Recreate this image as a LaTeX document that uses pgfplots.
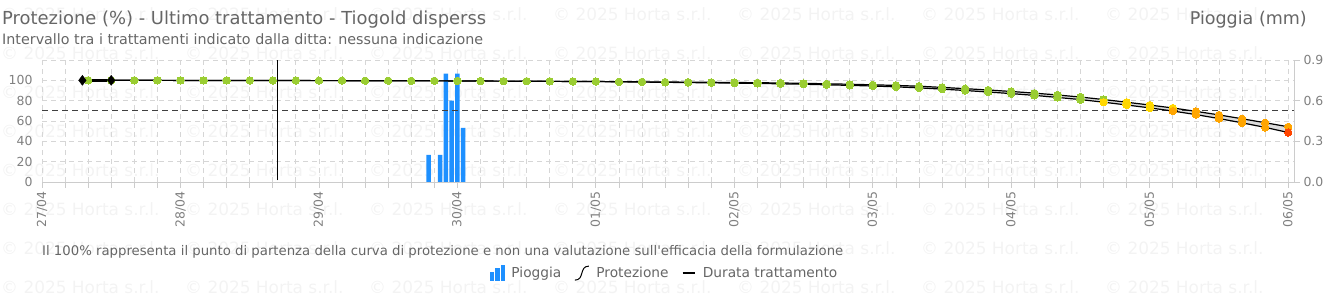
\documentclass[border=0pt]{standalone}
\usepackage{graphicx}
\usepackage{fontspec}
\setmainfont{DejaVu Sans}
\usepackage{pgfplots}
\usepackage{pgfplotstable}
\pgfplotsset{compat=1.18}
\definecolor{rainblue}{HTML}{1E90FF}
\definecolor{pgreen}{HTML}{9ACD32}
\definecolor{pyellow}{HTML}{FFD700}
\definecolor{porange}{HTML}{FFA500}
\definecolor{pred}{HTML}{FF4500}
\definecolor{gridc}{HTML}{D6D6D6}
\definecolor{axc}{HTML}{CCCCCC}
\definecolor{txt}{HTML}{666666}
\definecolor{tickc}{HTML}{808080}
\definecolor{wm}{HTML}{F3F3F3}
\definecolor{band}{HTML}{DCDCDC}

% protection: upper curve U, lower curve L, colour class of each dot
\pgfplotstableread{
h U L cu cl
8 100 100 g g
12 100 100 g g
16 100 100 g g
20 100 100 g g
24 99.9 99.9 g g
28 99.9 99.9 g g
32 99.9 99.9 g g
36 99.8 99.8 g g
40 99.8 99.8 g g
44 99.8 99.8 g g
48 99.7 99.7 g g
52 99.7 99.7 g g
56 99.6 99.6 g g
60 99.6 99.6 g g
64 99.5 99.5 g g
68 99.5 99.5 g g
72 99.4 99.4 g g
76 99.3 99.3 g g
80 99.2 99.2 g g
84 99.1 99.1 g g
88 99.0 99.0 g g
92 98.9 98.9 g g
96 98.8 98.8 g g
100 98.65 98.55 g g
104 98.5 98.3 g g
108 98.35 98.05 g g
112 98.2 97.8 g g
116 98.05 97.55 g g
120 97.9 97.3 g g
124 97.65 96.95 g g
128 97.4 96.6 g g
132 97.05 96.15 g g
136 96.6 95.6 g g
140 96.15 95.05 g g
144 95.6 94.4 g g
148 95.0 93.6 g g
152 94.2 92.6 g g
156 93.05 91.35 g g
160 91.8 90.0 g g
164 90.5 88.5 g g
168 89.05 86.95 g g
172 87.4 85.2 g g
176 85.6 83.2 g g
180 83.55 81.05 g g
184 81.1 78.5 g y
188 78.45 75.75 y y
192 75.7 72.9 y y
196 72.8 69.8 y o
200 69.5 66.3 o o
204 66.0 62.4 o o
208 62.2 58.2 o o
212 58.3 53.7 o o
216 54.3 48.7 o r
}\prot

% band between the two curves (upper forward, lower backward)
\pgfplotstableread{
h v
96 98.8
100 98.65
104 98.5
108 98.35
112 98.2
116 98.05
120 97.9
124 97.65
128 97.4
132 97.05
136 96.6
140 96.15
144 95.6
148 95.0
152 94.2
156 93.05
160 91.8
164 90.5
168 89.05
172 87.4
176 85.6
180 83.55
184 81.1
188 78.45
192 75.7
196 72.8
200 69.5
204 66.0
208 62.2
212 58.3
216 54.3
216 48.7
212 53.7
208 58.2
204 62.4
200 66.3
196 69.8
192 72.9
188 75.75
184 78.5
180 81.05
176 83.2
172 85.2
168 86.95
164 88.5
160 90.0
156 91.35
152 92.6
148 93.6
144 94.4
140 95.05
136 95.6
132 96.15
128 96.6
124 96.95
120 97.3
116 97.55
112 97.8
108 98.05
104 98.3
100 98.55
96 98.8
}\band

\pgfplotstableread{
h r
67 0.2
69 0.2
70 0.8
71 0.6
72 0.8
73 0.4
}\rain

\pgfplotsset{dotclasses/.style={
  scatter, only marks, scatter src=explicit symbolic,
  scatter/classes={
    g={mark=*, mark size=3.7bp, draw=pgreen, fill=pgreen, line width=0pt},
    y={mark=*, mark size=3.7bp, draw=pyellow, fill=pyellow, line width=0pt},
    o={mark=*, mark size=3.7bp, draw=porange, fill=porange, line width=0pt},
    r={mark=*, mark size=3.7bp, draw=pred, fill=pred, line width=0pt}}}}

\begin{document}
\begin{tikzpicture}
\path[use as bounding box] (0,0) rectangle (1340bp,297bp);
% watermark
\foreach \yy in {14,53,92,131,170,209,248,287}{
  \foreach \xx in {1,185,369,553,737,921,1105}{
    \node[anchor=west, inner sep=0, text=wm, font=\fontsize{17}{17}\selectfont] at (\xx bp, 297bp-\yy bp) {© 2025 Horta s.r.l.};
  }
}
% titles
\node[anchor=base west, inner sep=0, text=txt] at (2bp,272bp) {\resizebox{484bp}{!}{\fontsize{18}{18}\selectfont Protezione (\%) - Ultimo trattamento - Tiogold disperss}};
\node[anchor=base west, inner sep=0, text=txt] at (2bp,252bp) {\resizebox{481bp}{!}{\fontsize{14}{14}\selectfont Intervallo tra i trattamenti indicato dalla ditta: nessuna indicazione}};
\node[anchor=base east, inner sep=0, text=txt] at (1307bp,272bp) {\resizebox{117bp}{!}{\fontsize{18}{18}\selectfont Pioggia (mm)}};
\node[anchor=base west, inner sep=0, text=txt] at (42bp,41bp) {\resizebox{801bp}{!}{\fontsize{13}{13}\selectfont Il 100\% rappresenta il punto di partenza della curva di protezione e non una valutazione sull\textquotesingle efficacia della formulazione}};

% axis with grid, bars and right axis
\begin{axis}[
  at={(42bp,115bp)}, anchor=south west,
  width=1252bp, height=122bp, scale only axis,
  xmin=0, xmax=217, ymin=0, ymax=0.9,
  axis x line*=bottom, axis y line*=right,
  axis line style={draw=axc, line width=0.8bp},
  xtick={0,24,...,216},
  xticklabels={27/04,28/04,29/04,30/04,01/05,02/05,03/05,04/05,05/05,06/05},
  minor xtick={4,8,...,212},
  ytick={0,0.3,0.6,0.9},
  extra y ticks={0.15,0.45,0.75}, extra y tick labels={},
  extra y tick style={grid=major, major tick length=0pt},
  grid=both,
  major grid style={draw=gridc, dash pattern=on 5bp off 4bp, line width=0.8bp},
  minor grid style={draw=gridc, dash pattern=on 5bp off 4bp, line width=0.8bp},
  tick align=outside, major tick length=6bp, minor tick length=6bp,
  tick style={draw=axc, line width=0.8bp},
  xticklabel style={rotate=90, anchor=east, font=\fontsize{12.5}{12.5}\selectfont, text=tickc},
  yticklabel style={font=\fontsize{12.5}{12.5}\selectfont, text=tickc, /pgf/number format/.cd, fixed, fixed zerofill, precision=1},
  /pgf/number format/assume math mode=true,
]
\addplot[ybar, bar width=4.4bp, bar shift=0pt, fill=rainblue, draw=none] table[x=h, y=r] {\rain};
\end{axis}

% left axis with protection curves
\begin{axis}[
  at={(42bp,115bp)}, anchor=south west,
  width=1252bp, height=122bp, scale only axis,
  xmin=0, xmax=217, ymin=0, ymax=120,
  hide x axis, axis y line*=left,
  y axis line style={draw=none},
  ytick={0,20,...,100}, major tick length=0pt,
  yticklabel style={font=\fontsize{12.5}{12.5}\selectfont, text=tickc, xshift=-6bp},
  /pgf/number format/assume math mode=true,
  legend style={at={(0.4972,-0.746)}, anchor=center, draw=none, fill=none,
    font=\fontsize{13.8}{13.8}\selectfont, text=txt, legend columns=3,
    /tikz/every odd column/.append style={column sep=5bp},
    /tikz/every even column/.append style={column sep=11bp}},
]
\addlegendimage{legend image code/.code={
  \fill[rainblue] (0bp,-7bp) rectangle (3.5bp,1bp);
  \fill[rainblue] (5.5bp,-7bp) rectangle (9bp,5bp);
  \fill[rainblue] (11bp,-7bp) rectangle (14.5bp,8bp);
}}
\addlegendentry{Pioggia}
\addlegendimage{legend image code/.code={
  \draw[black, line width=1bp] (0bp,-7bp) .. controls (10bp,-7bp) and (4bp,7bp) .. (14bp,7bp);
}}
\addlegendentry{Protezione}
\addlegendimage{legend image code/.code={
  \draw[black, line width=2.2bp] (0bp,0bp) -- (12bp,0bp);
}}
\addlegendentry{Durata trattamento}

\addplot[fill=band, draw=none, forget plot] table[x=h, y=v] {\band};
\addplot[color=black!75, line width=1.3bp, dash pattern=on 6bp off 4bp, forget plot] coordinates {(0,70) (217,70)};
\addplot[black, line width=1bp, forget plot] coordinates {(40.8,1.5) (40.8,120)};
\addplot[black, line width=1.2bp, forget plot] table[x=h, y=U] {\prot};
\addplot[black, line width=1.2bp, forget plot] table[x=h, y=L] {\prot};
\addplot[dotclasses, forget plot] table[x=h, y=U, meta=cu] {\prot};
\addplot[dotclasses, forget plot] table[x=h, y=L, meta=cl] {\prot};
\addplot[black, line width=2.4bp, mark=diamond*, mark size=5bp, mark options={solid, line width=0.4bp}, forget plot] coordinates {(7,100) (12,100)};
\end{axis}
\end{tikzpicture}
\end{document}
